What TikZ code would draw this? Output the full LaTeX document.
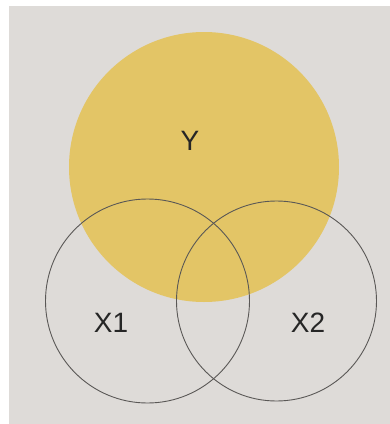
\documentclass[tikz,border=0pt]{standalone}
\usepackage{fontspec}
\setmainfont{Liberation Sans}
\definecolor{bggray}{RGB}{222,219,216}
\definecolor{yfill}{RGB}{227,197,102}
\definecolor{ringc}{RGB}{90,88,86}
\begin{document}
\begin{tikzpicture}[x=1pt,y=-1pt,
  ring/.style={circle,draw=ringc,line width=0.9pt,inner sep=0pt},
  lbl/.style={font=\fontsize{28}{30}\selectfont,text=black!85}]
\useasboundingbox (0,0) rectangle (390,424);
\fill[white] (0,0) rectangle (390,424);
\fill[bggray] (9,6) rectangle (390,424);
\node[circle,fill=yfill,minimum size=270pt,inner sep=0pt] (Y) at (204,167) {};
\node[ring,minimum size=204pt] (X1) at (147.5,301) {};
\node[ring,minimum size=200pt] (X2) at (276.5,301) {};
\node[lbl] (ly) at (190,141) {Y};
\node[lbl] (lx1) at (111,323) {X1};
\node[lbl] (lx2) at (308,323) {X2};
\end{tikzpicture}
\end{document}
